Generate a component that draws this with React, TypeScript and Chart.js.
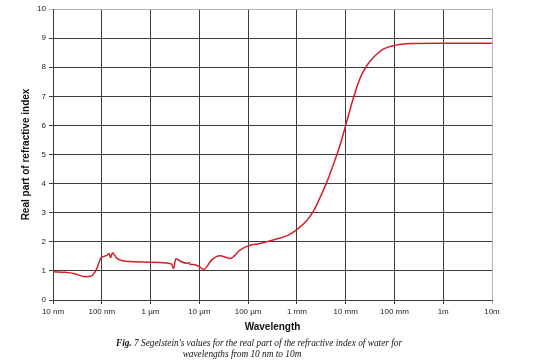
import React, { useEffect, useRef } from "react";
import { Chart, registerables } from "chart.js";

Chart.register(...registerables);

// Wavelength in metres
const wavelengths = [
  1.0e-8, 1.78e-8, 2.8e-8, 4.6e-8, 6.2e-8, 7.9e-8, 9.5e-8, 1.15e-7, 1.29e-7, 1.41e-7,
  1.51e-7, 1.66e-7, 2.04e-7, 2.75e-7, 3.8e-7, 9.8e-7, 1.82e-6, 2.7e-6, 2.95e-6, 3.3e-6,
  4.0e-6, 5.5e-6, 6.2e-6, 6.5e-6, 7.6e-6, 1.02e-5, 1.23e-5, 1.78e-5, 2.6e-5, 4.3e-5,
  6.8e-5, 1.0e-4, 1.74e-4, 3.5e-4, 6.5e-4, 1.0e-3, 1.58e-3, 2.2e-3, 2.95e-3, 4.1e-3, 5.6e-3,
  7.6e-3, 1.0e-2, 1.45e-2, 1.95e-2, 2.7e-2, 3.7e-2, 5.9e-2, 1.0e-1, 1.78e-1, 0.85, 10,
];

// Real part of refractive index
const refractiveIndex = [
  0.97, 0.95, 0.9, 0.8, 0.83, 1.08, 1.43, 1.51, 1.54, 1.6,
  1.46, 1.62, 1.43, 1.35, 1.32, 1.3, 1.28, 1.23, 1.08, 1.42,
  1.34, 1.26, 1.29, 1.22, 1.22, 1.14, 1.05, 1.37, 1.52, 1.43,
  1.71, 1.86, 1.94, 2.08, 2.22, 2.42, 2.72, 3.06, 3.5, 4.05, 4.66,
  5.3, 6.0, 6.96, 7.6, 8.05, 8.33, 8.62, 8.75, 8.81, 8.82, 8.82,
];

const xTickValues = [1e-8, 1e-7, 1e-6, 1e-5, 1e-4, 1e-3, 1e-2, 1e-1, 1, 10];
const xTickLabels = ["10 nm", "100 nm", "1 µm", "10 µm", "100 µm", "1 mm", "10 mm", "100 mm", "1m", "10m"];

const GRID = "#3c3c3c";
const EDGE = "#b4b4b4";

export default function App() {
  const ref = useRef<HTMLCanvasElement | null>(null);

  useEffect(() => {
    if (!ref.current) return;
    const chart = new Chart(ref.current, {
      type: "line",
      data: {
        datasets: [
          {
            data: wavelengths.map((w, i) => ({ x: w, y: refractiveIndex[i] })),
            borderColor: "#d4202a",
            borderWidth: 1.5,
            pointRadius: 0,
            fill: false,
            cubicInterpolationMode: "monotone",
          },
        ],
      },
      options: {
        responsive: false,
        animation: false,
        devicePixelRatio: 1,
        layout: { padding: { left: 0, right: 48, top: 9, bottom: 0 } },
        plugins: { legend: { display: false }, tooltip: { enabled: false } },
        scales: {
          x: {
            type: "logarithmic",
            min: 1e-8,
            max: 10,
            afterBuildTicks: (scale: any) => {
              scale.ticks = xTickValues.map((v) => ({ value: v }));
            },
            afterFit: (scale: any) => {
              scale.height = 64;
            },
            ticks: {
              autoSkip: false,
              maxRotation: 0,
              padding: 3,
              color: "#222",
              font: { family: "'Liberation Sans', Arial", size: 8 },
              callback: (v: any) => {
                const i = xTickValues.findIndex((t) => Math.abs(Math.log10(t) - Math.log10(Number(v))) < 1e-6);
                return i >= 0 ? xTickLabels[i] : "";
              },
            },
            grid: {
              color: (ctx: any) => (ctx.index === xTickValues.length - 1 ? EDGE : GRID),
              lineWidth: 1,
              tickLength: 4,
            },
            border: { color: GRID, width: 1 },
            title: {
              display: true,
              text: "Wavelength",
              color: "#111",
              font: { family: "'Liberation Sans', Arial", size: 10, weight: "bold" },
              padding: { top: 0, bottom: 31 },
            },
          },
          y: {
            min: 0,
            max: 10,
            afterFit: (scale: any) => {
              scale.width = 53;
            },
            ticks: {
              stepSize: 1,
              padding: 3,
              color: "#222",
              font: { family: "'Liberation Sans', Arial", size: 8 },
            },
            grid: {
              color: (ctx: any) => (ctx.tick && ctx.tick.value === 10 ? EDGE : GRID),
              lineWidth: 1,
              tickLength: 4,
            },
            border: { color: GRID, width: 1 },
            title: {
              display: true,
              text: "Real part of refractive index",
              color: "#111",
              font: { family: "'Liberation Sans', Arial", size: 10, weight: "bold" },
              padding: { top: 20, bottom: 0 },
            },
          },
        },
      },
    } as any);
    return () => chart.destroy();
  }, []);

  const cap: React.CSSProperties = {
    position: "absolute",
    transform: "translateX(-50%)",
    whiteSpace: "nowrap",
    fontFamily: "'Liberation Serif', 'Times New Roman', serif",
    fontStyle: "italic",
    fontSize: "9.3px",
    lineHeight: "11px",
    color: "#111",
  };

  return (
    <div style={{ position: "fixed", left: 0, top: 0, width: 540, height: 364, background: "#fff" }}>
      <canvas ref={ref} width={540} height={364} style={{ display: "block" }} />
      <div style={{ ...cap, left: 259, top: 338 }}>
        <b>Fig.</b> 7 Segelstein's values for the real part of the refractive index of water for
      </div>
      <div style={{ ...cap, left: 242, top: 349 }}>wavelengths from 10 nm to 10m</div>
    </div>
  );
}
